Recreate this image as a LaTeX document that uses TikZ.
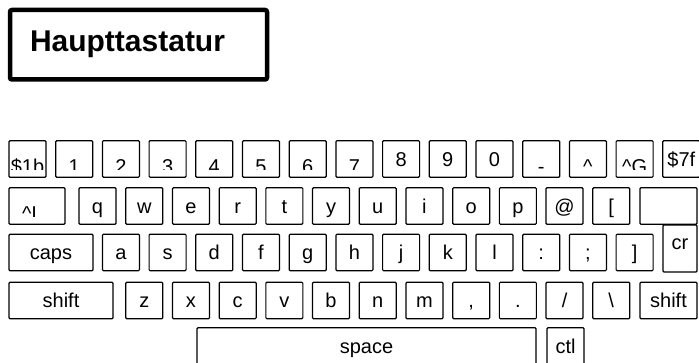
\documentclass[tikz,border=0pt]{standalone}
\usepackage{fontspec}
\setmainfont{Liberation Sans}
\newcommand{\keyfont}{\fontsize{20}{24}\selectfont}
\tikzset{
  key/.style={draw, line width=1.2pt, rounded corners=1pt, minimum width=37pt, minimum height=36.5pt,
    inner sep=0pt, text height=15pt, text depth=0pt, font=\keyfont},
  low/.style={path picture={
    \clip ([yshift=8pt]path picture bounding box.south west) rectangle (path picture bounding box.north east);
    \node[draw=none, inner sep=0pt, text height=15pt, text depth=0pt, font=\keyfont]
      at ([yshift=-7pt]path picture bounding box.center) {#1};}},
  titlebox/.style={draw, line width=4.5pt, rounded corners=2pt, minimum height=69.5pt, text width=217pt,
    inner xsep=20pt, align=left, font=\fontsize{30}{36}\selectfont\bfseries}
}

\begin{document}
\begin{tikzpicture}[x=1pt, y=1pt]
    \useasboundingbox (0,0) rectangle (699,363);

    % 标题框
    \node[titlebox] (title) at (138.5,318.25) {Haupttastatur};

    % 第一行
    \node[key, low=\$1b] (k1b) at (27.5,204) {};
    \node[key, low=1] (k1) at (74.2,204) {};
    \node[key, low=2] (k2) at (120.9,204) {};
    \node[key, low=3] (k3) at (167.6,204) {};
    \node[key, low=4] (k4) at (214.3,204) {};
    \node[key, low=5] (k5) at (261.0,204) {};
    \node[key, low=6] (k6) at (307.7,204) {};
    \node[key, low=7] (k7) at (354.4,204) {};
    \node[key] (k8) at (401.1,204) {8};
    \node[key] (k9) at (447.8,204) {9};
    \node[key] (k0) at (494.5,204) {0};
    \node[key, low=-] (kminus) at (541.2,204) {};
    \node[key, low=\textasciicircum] (kcaret) at (587.9,204) {};
    \node[key, low=\textasciicircum G] (kctrlg) at (634.6,204) {};
    \node[key] (k7f) at (681.3,204) {\$7f};

    % 第二行
    \node[key, minimum width=56pt, low={\kern-15pt\textasciicircum I}] (ktab) at (37,157) {};
    \node[key] (kq) at (97.55,157) {q};
    \node[key] (kw) at (144.25,157) {w};
    \node[key] (ke) at (190.95,157) {e};
    \node[key] (kr) at (237.65,157) {r};
    \node[key] (kt) at (284.35,157) {t};
    \node[key] (ky) at (331.05,157) {y};
    \node[key] (ku) at (377.75,157) {u};
    \node[key] (ki) at (424.45,157) {i};
    \node[key] (ko) at (471.15,157) {o};
    \node[key] (kp) at (517.85,157) {p};
    \node[key] (kat) at (564.55,157) {@};
    \node[key] (klbrack) at (611.25,157) {[};
    \node[key, minimum width=57pt] (kblank) at (668.5,157) {};

    % 第三行
    \node[key, minimum width=84pt] (kcaps) at (51,110.5) {caps};
    \node[key] (ka) at (120.9,110.5) {a};
    \node[key] (ks) at (167.6,110.5) {s};
    \node[key] (kd) at (214.3,110.5) {d};
    \node[key] (kf) at (261.0,110.5) {f};
    \node[key] (kg) at (307.7,110.5) {g};
    \node[key] (kh) at (354.4,110.5) {h};
    \node[key] (kj) at (401.1,110.5) {j};
    \node[key] (kk) at (447.8,110.5) {k};
    \node[key] (kl) at (494.5,110.5) {l};
    \node[key] (kcolon) at (541.2,110.5) {:};
    \node[key] (ksemi) at (587.9,110.5) {;};
    \node[key] (krbrack) at (634.6,110.5) {]};
    \node[key, minimum width=34pt, minimum height=47pt, text height=3pt] (kcr) at (680,114.5) {cr};

    % 第四行
    \node[key, minimum width=104pt] (kshiftl) at (61,62.5) {shift};
    \node[key] (kz) at (144.25,62.5) {z};
    \node[key] (kx) at (190.95,62.5) {x};
    \node[key] (kc) at (237.65,62.5) {c};
    \node[key] (kv) at (284.35,62.5) {v};
    \node[key] (kb) at (331.05,62.5) {b};
    \node[key] (kn) at (377.75,62.5) {n};
    \node[key] (km) at (424.45,62.5) {m};
    \node[key] (kcomma) at (471.15,62.5) {,};
    \node[key] (kdot) at (517.85,62.5) {.};
    \node[key] (kslash) at (564.55,62.5) {/};
    \node[key] (kbslash) at (611.25,62.5) {\textbackslash};
    \node[key, minimum width=57pt] (kshiftr) at (668.5,62.5) {shift};

    % 空格行
    \node[key, minimum width=339pt] (kspace) at (366.5,17) {space};
    \node[key] (kctl) at (565.5,17) {ctl};
\end{tikzpicture}
\end{document}
